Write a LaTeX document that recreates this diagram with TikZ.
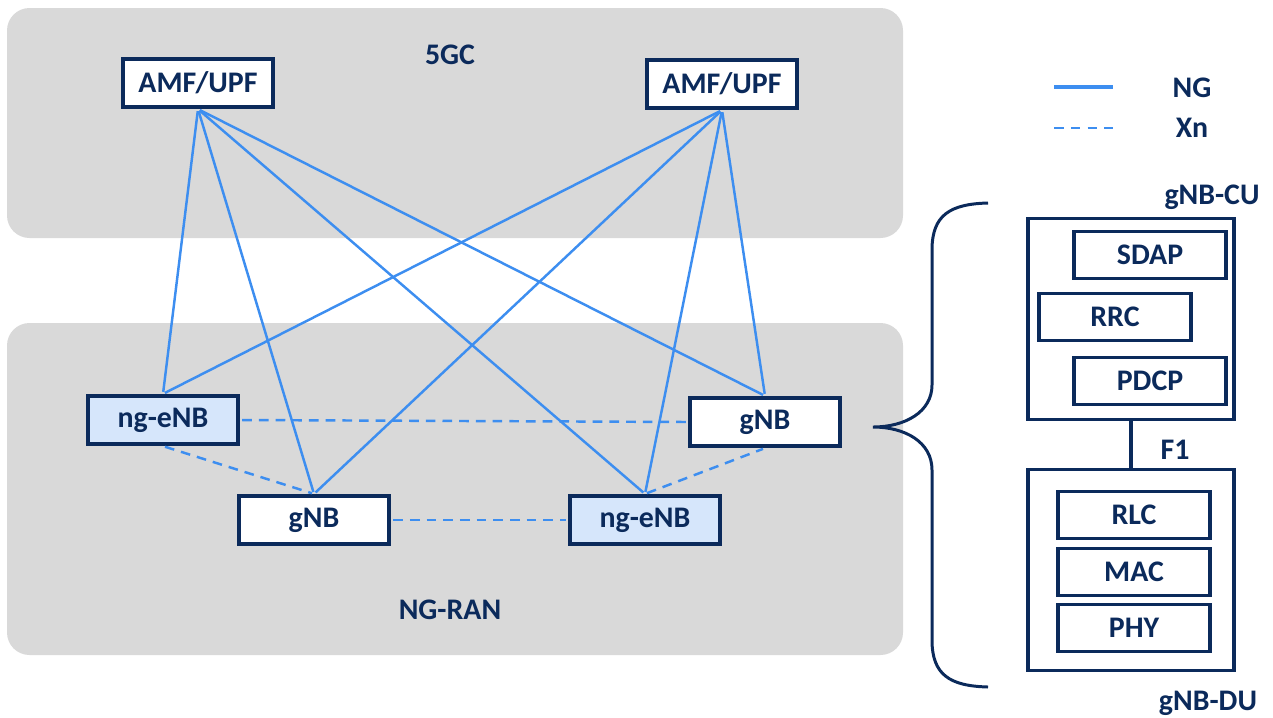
\documentclass[tikz,border=0pt]{standalone}
\usepackage{fontspec}
\setmainfont{Carlito}
\usetikzlibrary{positioning}
\definecolor{navy}{HTML}{0B2A5B}
\definecolor{nglink}{HTML}{3D8EF0}
\definecolor{panel}{HTML}{D9D9D9}
\definecolor{enbfill}{HTML}{D6E6FB}

\begin{document}
\begin{tikzpicture}[x=0.02cm, y=-0.02cm, font=\fontsize{17}{20}\selectfont\bfseries,
    netbox/.style = {draw=navy, line width=2.4pt, fill=white, text=navy, minimum width=3.0cm, minimum height=0.96cm, inner sep=0pt},
    enb/.style = {netbox, fill=enbfill},
    stackbox/.style = {draw=navy, line width=1.8pt, fill=white, text=navy, minimum width=3.04cm, minimum height=0.95cm, inner sep=0pt},
    splitbox/.style = {draw=navy, line width=1.8pt, minimum width=4.12cm, minimum height=4.02cm},
    title/.style = {text=navy, inner sep=0pt},
    ng/.style = {draw=nglink, line width=1.4pt, shorten <=1.2pt, shorten >=1.2pt},
    xn/.style = {ng, dash pattern=on 5.5pt off 4pt}]
    \useasboundingbox (0,0) rectangle (1273,717);

    % grey areas
    \fill[panel, rounded corners=0.45cm] (7,8) rectangle (903,238);
    \fill[panel, rounded corners=0.45cm] (7,323) rectangle (903,655);
    \node[title] (core) at (450,55) {5GC};
    \node[title] (ran) at (450,610) {NG-RAN};

    \node[netbox] (amfL) at (198,83) {AMF/UPF};
    \node[netbox] (amfR) at (722,84) {AMF/UPF};
    \node[enb] (enbL) at (163,420) {ng-eNB};
    \node[netbox] (gnbL) at (314,520) {gNB};
    \node[enb] (enbM) at (645,520) {ng-eNB};
    \node[netbox] (gnbR) at (765,422) {gNB};

    % NG links
    \foreach \a in {amfL, amfR}
        \foreach \b in {enbL, gnbL, enbM, gnbR}
            \draw[ng] (\a.south) -- (\b.north);

    % Xn links
    \draw[xn] (enbL.east) -- (gnbR.west);
    \draw[xn] (gnbL.east) -- (enbM.west);
    \draw[xn] (enbL.south) -- (gnbL.north);
    \draw[xn] (enbM.north) -- (gnbR.south);

    % legend
    \coordinate (ngA) at (1052,87);
    \coordinate (ngB) at (1115,87);
    \coordinate (xnA) at (1052,128);
    \coordinate (xnB) at (1115,128);
    \draw[ng, line width=1.8pt] (ngA) -- (ngB);
    \draw[xn] (xnA) -- (xnB);
    \node[title] (ngtext) at (1192,88) {NG};
    \node[title] (xntext) at (1192,128) {Xn};

    % split gNB
    \draw[navy, line width=1.7pt] (988,203) .. controls (950,204) and (932,215) .. (932,250)
        -- (932,385) .. controls (932,412) and (905,427) .. (873,427)
        .. controls (905,427) and (932,442) .. (932,470)
        -- (932,640) .. controls (932,675) and (950,686) .. (988,687);

    \node[splitbox] (cu) at (1131,319) {};
    \node[splitbox] (du) at (1131,570) {};
    \node[title] (cutext) at (1212,197) {gNB-CU};
    \node[title] (dutext) at (1208,703) {gNB-DU};

    \node[stackbox] (sdap) at (1150,255) {SDAP};
    \node[stackbox] (rrc) at (1115,317) {RRC};
    \node[stackbox] (pdcp) at (1150,381) {PDCP};
    \node[stackbox] (rlc) at (1134,515) {RLC};
    \node[stackbox] (mac) at (1134,572) {MAC};
    \node[stackbox] (phy) at (1134,628) {PHY};

    \draw[navy, line width=1.8pt] (cu.south) -- (du.north);
    \node[title] (f1) at (1175,450) {F1};
\end{tikzpicture}
\end{document}
